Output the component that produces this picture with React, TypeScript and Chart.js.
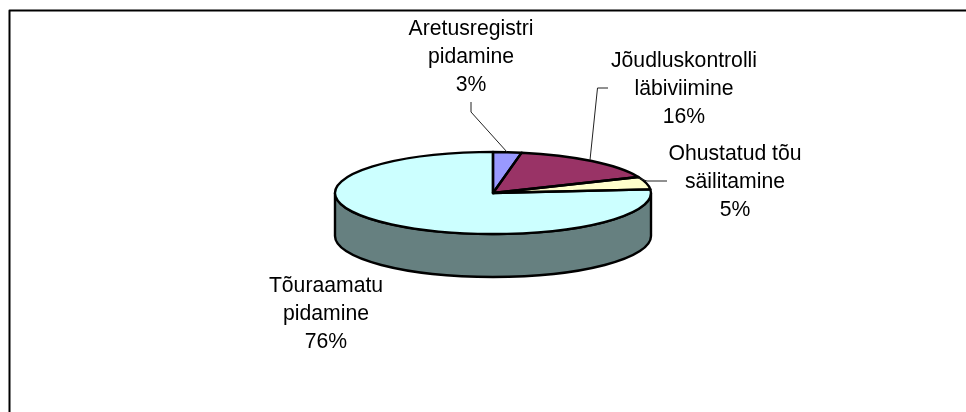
import React, { useEffect, useRef } from "react";
import { Chart, registerables } from "chart.js";

Chart.register(...registerables);

const categories = ["Aretusregistri pidamine", "Jõudluskontrolli läbiviimine", "Ohustatud tõu säilitamine", "Tõuraamatu pidamine"];
const labelLines = [["Aretusregistri", "pidamine"], ["Jõudluskontrolli", "läbiviimine"], ["Ohustatud tõu", "säilitamine"], ["Tõuraamatu", "pidamine"]];
const values = [2.9, 15.7, 5.0, 76.4];
const topColors = ["#9999FF", "#993366", "#FFFFCC", "#CCFFFF"];
const sideColors = ["#4D4D80", "#4D1A33", "#808066", "#668080"];

const labelCenters = [[471, 29], [684, 61], [735, 154], [326, 286]];
const leaders: number[][][] = [
  [[471, 102], [471, 112], [507, 152]],
  [[608, 88], [597.5, 88], [590, 160]],
  [[667, 181], [647, 181], [638, 178]],
  [],
];

const TILT = 41 / 158;
const DEPTH = 43;
const FONT = '21.2px "Liberation Sans", Arial, sans-serif';
const LINE_H = 28;

const pie3d = {
  id: "pie3d",
  beforeDatasetsDraw(chart: any) {
    const ctx = chart.ctx;
    const arcs = chart.getDatasetMeta(0).data;
    const { x, y, outerRadius: r } = arcs[0];
    ctx.save();
    ctx.lineWidth = 2.4;
    ctx.strokeStyle = "#000";
    arcs.forEach((a: any, i: number) => {
      const s = Math.max(a.startAngle, 0);
      const e = Math.min(a.endAngle, Math.PI);
      const segs: number[][] = [];
      if (e > s) segs.push([s, e]);
      const s2 = Math.max(a.startAngle, 2 * Math.PI);
      const e2 = Math.min(a.endAngle, 3 * Math.PI);
      if (e2 > s2) segs.push([s2, e2]);
      segs.forEach(([p, q]) => {
        ctx.beginPath();
        ctx.ellipse(x, y, r, r * TILT, 0, p, q);
        ctx.ellipse(x, y + DEPTH, r, r * TILT, 0, q, p, true);
        ctx.closePath();
        ctx.fillStyle = sideColors[i];
        ctx.fill();
        ctx.stroke();
      });
    });
    ctx.restore();
    ctx.save();
    ctx.translate(x, y);
    ctx.scale(1, TILT);
    ctx.translate(-x, -y);
  },
  afterDatasetsDraw(chart: any) {
    const ctx = chart.ctx;
    ctx.restore();
    const arcs = chart.getDatasetMeta(0).data;
    ctx.save();
    ctx.lineWidth = 2.4;
    ctx.strokeStyle = "#000";
    ctx.lineJoin = "round";
    arcs.forEach((a: any) => {
      const { x, y, outerRadius: r, startAngle, endAngle } = a;
      ctx.beginPath();
      ctx.moveTo(x, y);
      ctx.ellipse(x, y, r, r * TILT, 0, startAngle, endAngle);
      ctx.closePath();
      ctx.stroke();
    });
    ctx.lineWidth = 1;
    ctx.strokeStyle = "#222";
    leaders.forEach((pts) => {
      if (!pts.length) return;
      ctx.beginPath();
      pts.forEach(([px, py], i) => (i ? ctx.lineTo(px, py) : ctx.moveTo(px, py)));
      ctx.stroke();
    });
    ctx.fillStyle = "#000";
    ctx.font = FONT;
    ctx.textAlign = "center";
    ctx.textBaseline = "middle";
    const ds = chart.data.datasets[0].data as number[];
    const total = ds.reduce((p, c) => p + c, 0);
    labelLines.forEach((lines, i) => {
      const [cx, cy] = labelCenters[i];
      [...lines, `${Math.round((ds[i] / total) * 100)}%`].forEach((t, j) => {
        ctx.fillText(t, cx, cy + j * LINE_H);
      });
    });
    ctx.lineWidth = 2;
    ctx.strokeStyle = "#000";
    ctx.beginPath();
    ctx.moveTo(9.5, 412);
    ctx.lineTo(9.5, 10.5);
    ctx.lineTo(966, 10.5);
    ctx.stroke();
    ctx.restore();
  },
};

export default function App() {
  const ref = useRef<HTMLCanvasElement>(null);
  useEffect(() => {
    document.body.style.margin = "0";
    const chart = new Chart(ref.current!, {
      type: "pie",
      data: {
        labels: categories,
        datasets: [{ data: values, backgroundColor: topColors, borderWidth: 0, clip: false } as any],
      },
      options: {
        animation: false,
        responsive: false,
        layout: { padding: { left: 335, right: 315, top: 35, bottom: 61 } },
        plugins: { legend: { display: false }, title: { display: false }, tooltip: { enabled: false } },
      },
      plugins: [pie3d],
    });
    return () => chart.destroy();
  }, []);
  return <canvas ref={ref} width={966} height={412} style={{ display: "block" }} />;
}
